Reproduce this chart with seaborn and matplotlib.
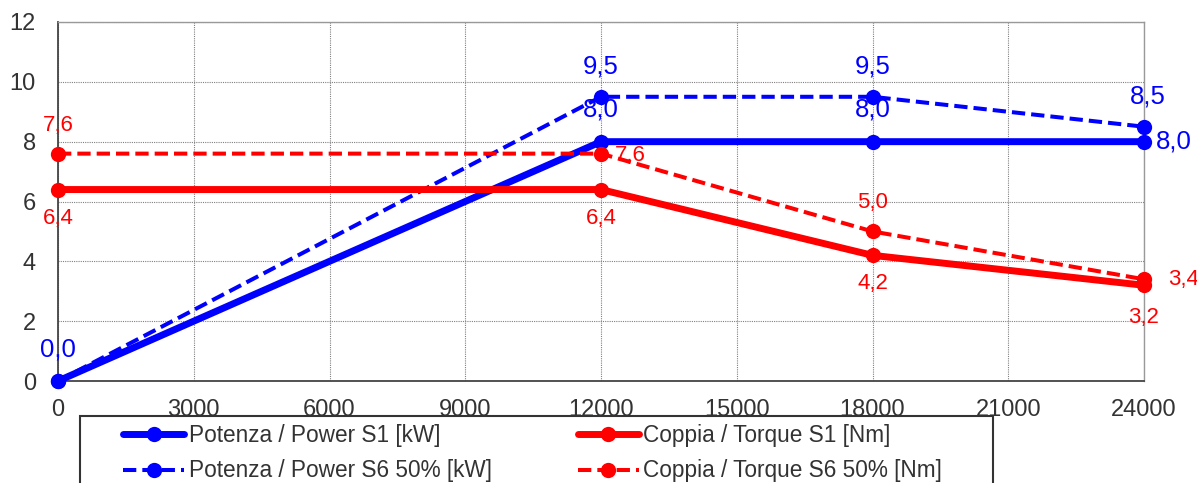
import numpy as np
import pandas as pd
import seaborn as sns
import matplotlib.pyplot as plt
from matplotlib.patches import Rectangle

# values
speed = [0, 12000, 18000, 24000]
power_s1 = [0.0, 8.0, 8.0, 8.0]
power_s6 = [0.0, 9.5, 9.5, 8.5]
torque_s1 = [6.4, 6.4, 4.2, 3.2]
torque_s6 = [7.6, 7.6, 5.0, 3.4]

labels = ['Potenza / Power S1 [kW]', 'Potenza / Power S6 50% [kW]',
          'Coppia / Torque S1 [Nm]', 'Coppia / Torque S6 50% [Nm]']

x_ticks = list(range(0, 24001, 3000))
y_ticks = list(range(0, 13, 2))

sns.set_theme(style="whitegrid")
plt.rcParams['font.family'] = ['Liberation Sans', 'DejaVu Sans']

W, H = 1197, 483
fig = plt.figure(figsize=(W / 100, H / 100), dpi=100)
ax = fig.add_axes([58 / W, 1 - 381 / H, (1144 - 58) / W, (381 - 22) / H])

BLUE = '#0000FF'
RED = '#FF0000'

series = [
    (power_s1, BLUE, 'solid', 5.0, labels[0]),
    (power_s6, BLUE, (0, (3.3, 1.5)), 2.9, labels[1]),
    (torque_s1, RED, 'solid', 5.0, labels[2]),
    (torque_s6, RED, (0, (3.3, 1.5)), 2.9, labels[3]),
]
for vals, col, ls, lw, lab in series:
    sns.lineplot(x=speed, y=vals, ax=ax, color=col, linestyle=ls, linewidth=lw,
                 marker='o', markersize=11, markeredgewidth=0, label=lab,
                 clip_on=False, zorder=3)

# value labels: (dx, dy) in pixels, horizontal alignment
def fmt(v):
    return f"{v:.1f}".replace('.', ',')

placements = {
    0: [(0, 32, 'center'), (0, 32, 'center'), (0, 32, 'center'), (12, 0, 'left')],
    1: [None, (0, 30, 'center'), (0, 30, 'center'), (4, 30, 'center')],
    2: [(0, -29, 'center'), (0, -29, 'center'), (0, -28, 'center'), (0, -32, 'center')],
    3: [(0, 28, 'center'), (14, -2, 'left'), (0, 29, 'center'), (24, 0, 'left')],
}
for i, (vals, col, ls, lw, lab) in enumerate(series):
    size = 18.5 if col == BLUE else 16
    for xv, yv, pl in zip(speed, vals, placements[i]):
        if pl is None:
            continue
        dx, dy, ha = pl
        ax.annotate(fmt(yv), (xv, yv), xytext=(dx, dy), textcoords='offset pixels',
                    ha=ha, va='center', color=col, fontsize=size,
                    annotation_clip=False, zorder=4)

ax.set_xlim(0, 24000)
ax.set_ylim(0, 12)
ax.set_xticks(x_ticks)
ax.set_yticks(y_ticks)
ax.set_xlabel('')
ax.set_ylabel('')
ax.grid(True, color='#808080', linestyle=(0, (1, 1)), linewidth=0.8)
ax.tick_params(axis='both', direction='out', length=6, width=1, colors='#555555',
               labelsize=17, labelcolor='#333333')
ax.tick_params(axis='x', pad=7)
ax.tick_params(axis='y', pad=10)
for side in ['left', 'bottom']:
    ax.spines[side].set_color('#444444')
    ax.spines[side].set_linewidth(1.3)
for side in ['top', 'right']:
    ax.spines[side].set_color('#999999')
    ax.spines[side].set_linewidth(1.0)

handles, labs = ax.get_legend_handles_labels()
ax.legend(handles, labs, ncol=2, frameon=False, fontsize=16.3,
          loc='upper left', bbox_to_anchor=(123 / W, 1 - 424 / H),
          bbox_transform=fig.transFigure, borderpad=0, borderaxespad=0,
          handlelength=2.7, handletextpad=0.2, columnspacing=3.8,
          labelspacing=0.55, labelcolor='#333333')

# legend frame running off the bottom edge
fig.patches.append(Rectangle((80 / W, -0.1), (993 - 80) / W, (483 - 416) / H + 0.1,
                             transform=fig.transFigure, fill=False,
                             edgecolor='#333333', linewidth=1.5))

fig.savefig('out.png', dpi=100)
